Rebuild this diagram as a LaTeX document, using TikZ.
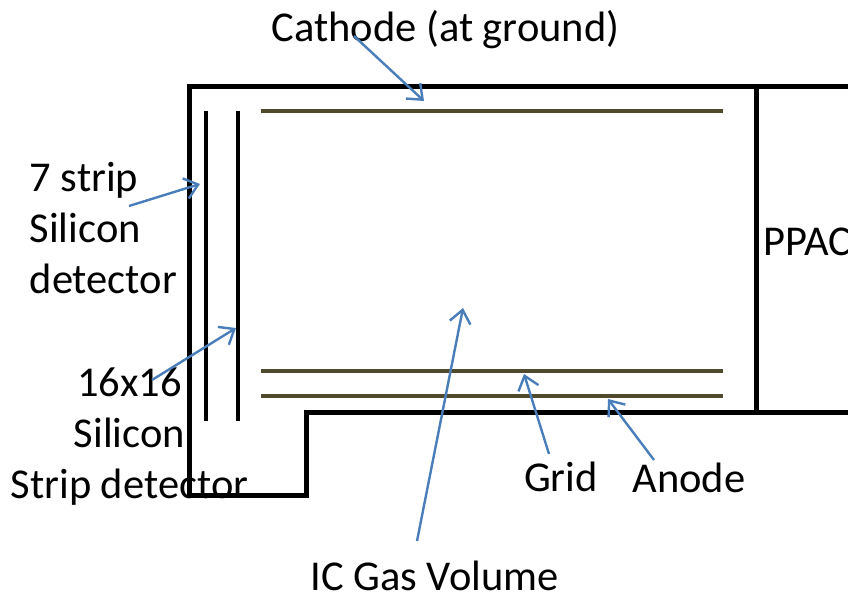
\documentclass[tikz,border=0pt]{standalone}
\usepackage{fontspec}
\setmainfont{Carlito}
\usepackage{tikz}
\usetikzlibrary{arrows.meta,positioning,calc}
\definecolor{pointerblue}{HTML}{4A7EBB}
\definecolor{plateolive}{HTML}{4F4A2C}
\tikzset{
  wall/.style={line width=5pt,line join=miter},
  detector/.style={line width=4.5pt},
  plate/.style={line width=4pt,plateolive},
  pointer/.style={line width=2.4pt,pointerblue,-{Straight Barb[length=13pt,width=21pt,line width=2.4pt]}},
  tag/.style={inner sep=0pt,font=\fontsize{42.5}{51}\selectfont}
}
\begin{document}
\begin{tikzpicture}[x=1pt,y=-1pt]
  \useasboundingbox (0,0) rectangle (848,593);
  % chamber
  \draw[wall] (848,87) -- (189,87) -- (189,495) -- (306,495) -- (306,412) -- (848,412);
  \draw[wall] (756,87) -- (756,412);
  % silicon
  \coordinate (siA1) at (206,111);
  \coordinate (siA2) at (206,421);
  \coordinate (siB1) at (238,111);
  \coordinate (siB2) at (238,421);
  \draw[detector] (siA1) -- (siA2);
  \draw[detector] (siB1) -- (siB2);
  % plates
  \coordinate (cathL) at (261,111);
  \coordinate (cathR) at (723,111);
  \coordinate (gridL) at (261,371);
  \coordinate (gridR) at (723,371);
  \coordinate (anodeL) at (261,396);
  \coordinate (anodeR) at (723,396);
  \draw[plate] (cathL) -- (cathR);
  \draw[plate] (gridL) -- (gridR);
  \draw[plate] (anodeL) -- (anodeR);
  % labels
  \node[tag,anchor=base] (cathode) at (445.5,42) {Cathode (at ground)};
  \node[tag,anchor=west,align=left] (strip) at (29.5,228.5) {7 strip\\Silicon\\detector};
  \node[tag,anchor=center,align=center] (sixteen) at (129.5,436.5) {16x16\\Silicon\\Strip detector};
  \node[tag,anchor=base west] (ppac) at (763,256) {PPAC};
  \node[tag,anchor=base] (grid) at (561,491) {Grid};
  \node[tag,anchor=base] (anode) at (689,492) {Anode};
  \node[tag,anchor=base] (gas) at (434.5,590) {IC Gas Volume};
  % pointers
  \coordinate (cathTail) at (354,36);
  \coordinate (cathTip) at (424,101);
  \coordinate (stripTail) at (129,206);
  \coordinate (stripTip) at (200,184);
  \coordinate (siTail) at (152,380);
  \coordinate (siTip) at (236,328);
  \coordinate (gasTail) at (417,541);
  \coordinate (gasTip) at (463,308);
  \coordinate (gridTail) at (549,454);
  \coordinate (gridTip) at (524,374);
  \coordinate (anodeTail) at (654,460);
  \coordinate (anodeTip) at (608,399);
  \draw[pointer] (cathTail) -- (cathTip);
  \draw[pointer] (stripTail) -- (stripTip);
  \draw[pointer] (siTail) -- (siTip);
  \draw[pointer] (gasTail) -- (gasTip);
  \draw[pointer] (gridTail) -- (gridTip);
  \draw[pointer] (anodeTail) -- (anodeTip);
\end{tikzpicture}
\end{document}
